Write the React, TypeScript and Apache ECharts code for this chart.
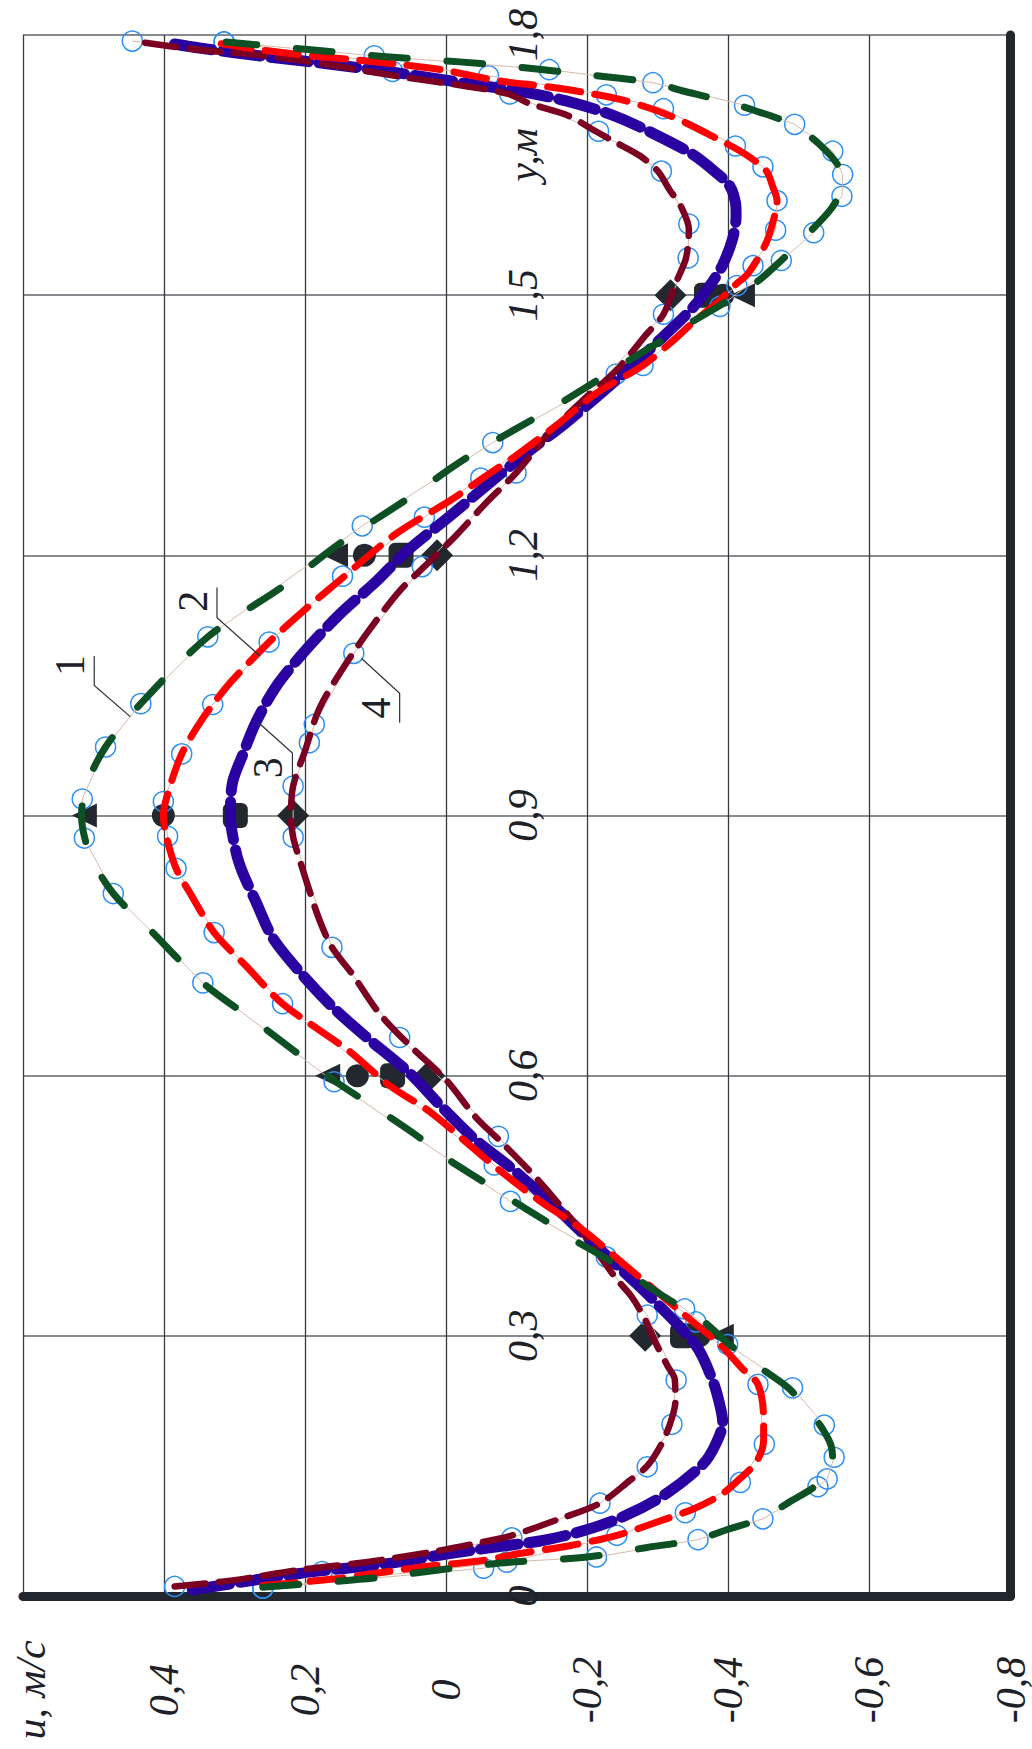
import React, { useEffect, useRef } from 'react';
import * as echarts from 'echarts';

// Velocity profiles u(y): each point is [u, y]
const curve1 = [
  [0.26, 0.010], [0.17, 0.016], [0.10, 0.021], [0.03, 0.028], [-0.03, 0.034], [-0.09, 0.039],
  [-0.20, 0.045], [-0.285, 0.056], [-0.355, 0.065], [-0.40, 0.077], [-0.445, 0.089], [-0.49, 0.110],
  [-0.528, 0.130], [-0.548, 0.155], [-0.545, 0.175], [-0.530, 0.197], [-0.515, 0.212], [-0.485, 0.240],
  [-0.442, 0.265], [-0.400, 0.291], [-0.360, 0.320], [-0.313, 0.343], [-0.270, 0.366], [-0.225, 0.390],
  [-0.178, 0.412], [-0.138, 0.434], [-0.090, 0.458], [-0.048, 0.480], [0.002, 0.506], [0.042, 0.531],
  [0.089, 0.557], [0.160, 0.595], [0.263, 0.658], [0.345, 0.707], [0.421, 0.769], [0.472, 0.810],
  [0.505, 0.855], [0.517, 0.900], [0.510, 0.935], [0.483, 0.979], [0.433, 1.029], [0.338, 1.106],
  [0.232, 1.164], [0.147, 1.216], [0.059, 1.263], [-0.028, 1.312], [-0.161, 1.375], [-0.250, 1.420],
  [-0.340, 1.465], [-0.435, 1.512], [-0.475, 1.540], [-0.508, 1.567], [-0.546, 1.600], [-0.560, 1.625],
  [-0.558, 1.645], [-0.529, 1.674], [-0.490, 1.697], [-0.437, 1.713], [-0.388, 1.725], [-0.333, 1.736],
  [-0.293, 1.745], [-0.182, 1.756], [-0.125, 1.761], [-0.078, 1.765], [-0.019, 1.769], [0.085, 1.775],
  [0.192, 1.783], [0.312, 1.792],
];

const curve2 = [
  [0.26, 0.012], [0.156, 0.020], [0.085, 0.028], [0.029, 0.034], [-0.052, 0.041], [-0.104, 0.049],
  [-0.175, 0.058], [-0.242, 0.070], [-0.298, 0.085], [-0.352, 0.101], [-0.390, 0.117], [-0.416, 0.135],
  [-0.440, 0.155], [-0.450, 0.180], [-0.450, 0.205], [-0.442, 0.244], [-0.420, 0.262], [-0.388, 0.290],
  [-0.335, 0.326], [-0.241, 0.390], [-0.194, 0.422], [-0.132, 0.456], [-0.080, 0.488], [-0.023, 0.527],
  [0.024, 0.559], [0.081, 0.589], [0.137, 0.628], [0.232, 0.683], [0.282, 0.725], [0.329, 0.765],
  [0.362, 0.809], [0.383, 0.839], [0.397, 0.877], [0.401, 0.900], [0.393, 0.930], [0.375, 0.971],
  [0.350, 1.006], [0.331, 1.028], [0.303, 1.056], [0.251, 1.100], [0.208, 1.132], [0.147, 1.174],
  [0.071, 1.225], [-0.005, 1.263], [-0.057, 1.292], [-0.099, 1.315], [-0.161, 1.353], [-0.213, 1.387],
  [-0.279, 1.419], [-0.318, 1.445], [-0.352, 1.470], [-0.385, 1.492], [-0.410, 1.512], [-0.428, 1.525],
  [-0.454, 1.561], [-0.466, 1.593], [-0.469, 1.609], [-0.463, 1.625], [-0.454, 1.643], [-0.425, 1.662],
  [-0.378, 1.683], [-0.317, 1.707], [-0.255, 1.724], [-0.194, 1.734], [-0.137, 1.741], [-0.075, 1.747],
  [0.000, 1.759], [0.066, 1.766], [0.137, 1.772], [0.204, 1.777], [0.265, 1.783], [0.319, 1.790],
];

const curve3 = [
  [0.36, 0.007], [0.208, 0.026], [0.081, 0.0375], [-0.005, 0.049], [-0.075, 0.057], [-0.137, 0.064],
  [-0.198, 0.076], [-0.255, 0.093], [-0.312, 0.118], [-0.364, 0.152], [-0.382, 0.175], [-0.392, 0.200],
  [-0.388, 0.220], [-0.378, 0.248], [-0.354, 0.289], [-0.288, 0.346], [-0.241, 0.382], [-0.194, 0.418],
  [-0.146, 0.455], [-0.090, 0.495], [-0.040, 0.527], [0.010, 0.567], [0.052, 0.603], [0.114, 0.645],
  [0.161, 0.679], [0.208, 0.720], [0.246, 0.759], [0.270, 0.801], [0.289, 0.835], [0.298, 0.858],
  [0.306, 0.900], [0.303, 0.938], [0.289, 0.969], [0.270, 1.007], [0.241, 1.049], [0.199, 1.091],
  [0.151, 1.132], [0.099, 1.170], [0.057, 1.204], [-0.005, 1.245], [-0.052, 1.277], [-0.109, 1.315],
  [-0.170, 1.353], [-0.241, 1.402], [-0.302, 1.448], [-0.350, 1.486], [-0.378, 1.516], [-0.392, 1.535],
  [-0.406, 1.565], [-0.411, 1.592], [-0.410, 1.607], [-0.402, 1.626], [-0.383, 1.641], [-0.350, 1.662],
  [-0.302, 1.683], [-0.241, 1.706], [-0.170, 1.724], [-0.099, 1.736], [-0.038, 1.743], [0.066, 1.756],
  [0.161, 1.766], [0.255, 1.775], [0.350, 1.785], [0.388, 1.790],
];

const curve4 = [
  [0.385, 0.011], [0.303, 0.018], [0.208, 0.030], [0.114, 0.039], [0.019, 0.051], [-0.038, 0.060],
  [-0.090, 0.069], [-0.161, 0.089], [-0.218, 0.107], [-0.260, 0.133], [-0.285, 0.150], [-0.305, 0.175],
  [-0.318, 0.200], [-0.325, 0.225], [-0.324, 0.250], [-0.314, 0.265], [-0.298, 0.290], [-0.280, 0.322],
  [-0.262, 0.346], [-0.241, 0.366], [-0.194, 0.418], [-0.132, 0.478], [-0.080, 0.522], [-0.042, 0.552],
  [0.000, 0.595], [0.052, 0.635], [0.095, 0.672], [0.133, 0.717], [0.162, 0.748], [0.180, 0.780],
  [0.195, 0.816], [0.207, 0.847], [0.217, 0.875], [0.220, 0.900], [0.217, 0.934], [0.200, 0.975],
  [0.180, 1.023], [0.147, 1.069], [0.109, 1.114], [0.066, 1.159], [0.031, 1.187], [-0.014, 1.223],
  [-0.057, 1.261], [-0.099, 1.295], [-0.146, 1.341], [-0.194, 1.379], [-0.241, 1.413], [-0.284, 1.455],
  [-0.308, 1.478], [-0.326, 1.515], [-0.340, 1.543], [-0.344, 1.576], [-0.333, 1.602], [-0.317, 1.621],
  [-0.300, 1.643], [-0.274, 1.661], [-0.236, 1.678], [-0.212, 1.689], [-0.170, 1.708], [-0.118, 1.721],
  [-0.088, 1.732], [-0.028, 1.741], [0.066, 1.752], [0.161, 1.765], [0.255, 1.776], [0.350, 1.783],
  [0.445, 1.793],
];

// Measured points (open circles) for profiles 1, 2 and 4
const measured1 = [
  [0.26, 0.009], [-0.086, 0.039], [-0.213, 0.045], [-0.357, 0.065], [-0.449, 0.089], [-0.527, 0.126],
  [-0.54, 0.135], [-0.55, 0.16], [-0.536, 0.197], [-0.491, 0.24], [-0.399, 0.29], [-0.338, 0.331],
  [-0.227, 0.391], [-0.091, 0.455], [0.159, 0.593], [0.345, 0.707], [0.472, 0.81], [0.513, 0.874],
  [0.516, 0.919], [0.483, 0.979], [0.433, 1.029], [0.338, 1.106], [0.119, 1.234], [-0.066, 1.33],
  [-0.241, 1.409], [-0.388, 1.487], [-0.475, 1.54], [-0.521, 1.572], [-0.561, 1.614], [-0.562, 1.639],
  [-0.548, 1.666], [-0.494, 1.697], [-0.423, 1.719], [-0.293, 1.745], [-0.146, 1.76], [0.102, 1.776],
  [0.315, 1.792],
];
const measured2 = [
  [0.26, 0.009], [-0.053, 0.032], [-0.242, 0.07], [-0.339, 0.096], [-0.417, 0.131], [-0.451, 0.175],
  [-0.442, 0.244], [-0.354, 0.316], [-0.068, 0.497], [0.232, 0.683], [0.329, 0.765], [0.383, 0.839],
  [0.395, 0.876], [0.401, 0.916], [0.375, 0.971], [0.331, 1.028], [0.251, 1.1], [0.147, 1.176],
  [0.031, 1.244], [-0.049, 1.289], [-0.279, 1.419], [-0.412, 1.511], [-0.435, 1.534], [-0.467, 1.575],
  [-0.469, 1.609], [-0.449, 1.648], [-0.41, 1.672], [-0.308, 1.715], [-0.227, 1.731], [-0.06, 1.753],
  [0.315, 1.792],
];
const measured4 = [
  [0.385, 0.011], [0.176, 0.028], [-0.093, 0.067], [-0.218, 0.107], [-0.285, 0.149], [-0.32, 0.198],
  [-0.326, 0.249], [-0.285, 0.324], [-0.074, 0.53], [0.066, 0.644], [0.162, 0.748], [0.217, 0.875],
  [0.217, 0.934], [0.194, 0.984], [0.187, 1.005], [0.131, 1.087], [0.034, 1.187], [-0.099, 1.295],
  [-0.308, 1.478], [-0.343, 1.543], [-0.344, 1.582], [-0.305, 1.643], [-0.216, 1.689], [-0.09, 1.732],
  [0.076, 1.758], [0.445, 1.793],
];

// Calculated values at the section positions
const sectionY = [0.3, 0.6, 0.9, 1.2, 1.5];
const calc1 = [-0.39, 0.168, 0.513, 0.157, -0.42];
const calc2 = [-0.359, 0.126, 0.401, 0.116, -0.392];
const calc3 = [-0.335, 0.076, 0.299, 0.064, -0.369];
const calc4 = [-0.282, 0.024, 0.217, 0.013, -0.318];

// Axis ticks
const uTickValues = [0.6, 0.4, 0.2, 0, -0.2, -0.4, -0.6, -0.8];
const uTickLabels = ['u, м/с', '0,4', '0,2', '0', '-0,2', '-0,4', '-0,6', '-0,8'];
const yTickValues = [0, 0.3, 0.6, 0.9, 1.2, 1.5, 1.8];
const yTickLabels = ['0', '0,3', '0,6', '0,9', '1,2', '1,5', '1,8'];

// Curve number tags with their leader lines, in data coordinates [u, y]
const curveTags = [
  { text: '1', at: [0.533, 1.073], leader: [[0.499, 1.084], [0.499, 1.050], [0.448, 1.014]] },
  { text: '2', at: [0.359, 1.147], leader: [[0.325, 1.163], [0.325, 1.128], [0.264, 1.084]] },
  { text: '3', at: [0.252, 0.955], leader: [[0.266, 1.007], [0.218, 0.972], [0.218, 0.938]] },
  { text: '4', at: [0.099, 1.024], leader: [[0.120, 1.081], [0.066, 1.041], [0.066, 1.007]] },
];

const SERIF = '"Liberation Serif", "Times New Roman", serif';
const INK = '#1d2127';

function labelFor(values: number[], labels: string[], v: number) {
  const i = values.findIndex((t) => Math.abs(t - v) < 1e-6);
  return i >= 0 ? labels[i] : '';
}

function profile(data: number[][], color: string, width: number, dash: number[]) {
  return {
    type: 'line',
    data,
    smooth: 0.3,
    showSymbol: false,
    lineStyle: { color, width, type: dash, cap: 'round', join: 'round', opacity: 1 },
    silent: true,
  };
}

function markers(values: number[], symbol: string, size: any, rotate = 0) {
  return {
    type: 'scatter',
    data: values.map((u, i) => [u, sectionY[i]]),
    symbol,
    symbolSize: size,
    symbolRotate: rotate,
    itemStyle: { color: '#23282e', opacity: 1 },
    silent: true,
  };
}

// thin polyline joining the measured points
function measuredTrace(data: number[][]) {
  return {
    type: 'line',
    data,
    smooth: false,
    showSymbol: false,
    lineStyle: { color: '#d9b9ab', width: 1 },
    silent: true,
  };
}

// open circles of the measured points
function measuredPoints(data: number[][]) {
  return {
    type: 'scatter',
    data,
    symbol: 'circle',
    symbolSize: 20,
    itemStyle: { color: 'rgba(255,255,255,0)', borderColor: '#2d8ff2', borderWidth: 1.5, opacity: 1 },
    silent: true,
  };
}

function buildOption() {
  return {
    animation: false,
    backgroundColor: '#ffffff',
    grid: { left: 23, right: 21.5, top: 35, bottom: 153, containLabel: false },
    xAxis: {
      type: 'value',
      min: -0.8,
      max: 0.6,
      interval: 0.2,
      inverse: true,
      position: 'bottom',
      axisLine: { show: true, onZero: false, lineStyle: { color: '#22272e', width: 9, cap: 'round' } },
      axisTick: { show: false },
      splitLine: { show: true, lineStyle: { color: '#353a41', width: 1.3 } },
      axisLabel: {
        rotate: 90,
        margin: 94,
        align: 'center',
        verticalAlign: 'middle',
        fontFamily: SERIF,
        fontStyle: 'italic',
        fontSize: 42,
        color: INK,
        formatter: (v: number) => {
          const s = labelFor(uTickValues, uTickLabels, v);
          return Math.abs(v - 0.6) < 1e-6 ? `{n|${s}}` : s;
        },
        rich: {
          n: { padding: [16, 0, 0, 0], fontFamily: SERIF, fontStyle: 'italic', fontSize: 42, color: INK },
        },
      },
    },
    yAxis: [
      {
        type: 'value',
        min: 0,
        max: 1.8,
        interval: 0.3,
        position: 'right',
        axisLine: { show: true, onZero: false, lineStyle: { color: '#22272e', width: 9, cap: 'round' } },
        axisTick: { show: false },
        axisLabel: { show: false },
        splitLine: { show: true, lineStyle: { color: '#5f646a', width: 1.6 } },
      },
      {
        type: 'value',
        min: 0,
        max: 1.8,
        interval: 0.3,
        position: 'left',
        offset: -500,
        axisLine: { show: false, onZero: false },
        axisTick: { show: false },
        splitLine: { show: false },
        axisLabel: {
          rotate: 90,
          margin: 0,
          align: 'center',
          verticalAlign: 'middle',
          fontFamily: SERIF,
          fontStyle: 'italic',
          fontSize: 42,
          color: INK,
          formatter: (v: number) => labelFor(yTickValues, yTickLabels, v),
        },
        name: 'y,м',
        nameLocation: 'end',
        nameGap: -120,
        nameRotate: 90,
        nameTextStyle: {
          align: 'center',
          verticalAlign: 'middle',
          fontFamily: SERIF,
          fontStyle: 'italic',
          fontSize: 42,
          color: INK,
        },
      },
    ],
    series: [
      measuredTrace(measured1),
      measuredTrace(measured2),
      measuredTrace(measured4),
      profile(curve3, '#2a02a2', 11, [38, 10.5]),
      profile(curve4, '#7b0022', 6.5, [31, 13.5]),
      profile(curve2, '#ff0000', 7, [33, 14.5]),
      profile(curve1, '#0c5023', 7, [36, 39.5]),
      markers(calc4, 'diamond', 32),
      markers(calc3, 'roundRect', 25),
      markers(calc2, 'circle', 23),
      markers(calc1, 'triangle', [24, 25], 90),
      measuredPoints(measured4),
      measuredPoints(measured2),
      measuredPoints(measured1),
    ],
  };
}

export default function App() {
  const ref = useRef<HTMLDivElement>(null);

  useEffect(() => {
    document.body.style.margin = '0';
    const chart = echarts.init(ref.current as HTMLDivElement, null, { renderer: 'svg' });
    chart.setOption(buildOption() as any);

    const toPx = (p: number[]) =>
      chart.convertToPixel({ xAxisIndex: 0, yAxisIndex: 0 } as any, p) as unknown as number[];

    const graphic: any[] = [];
    curveTags.forEach((tag) => {
      graphic.push({
        type: 'polyline',
        shape: { points: tag.leader.map(toPx) },
        style: { stroke: '#2d3238', lineWidth: 1.2, fill: null },
        z: 10,
        silent: true,
      });
      const [tx, ty] = toPx(tag.at);
      graphic.push({
        type: 'text',
        x: tx,
        y: ty,
        rotation: Math.PI / 2,
        style: {
          text: tag.text,
          font: `42px ${SERIF}`,
          fill: INK,
          align: 'center',
          verticalAlign: 'middle',
        },
        z: 10,
        silent: true,
      });
    });
    chart.setOption({ graphic });

    return () => chart.dispose();
  }, []);

  return (
    <div
      ref={ref}
      style={{ position: 'absolute', left: 0, top: 0, width: 1032, height: 1749, background: '#ffffff' }}
    />
  );
}
